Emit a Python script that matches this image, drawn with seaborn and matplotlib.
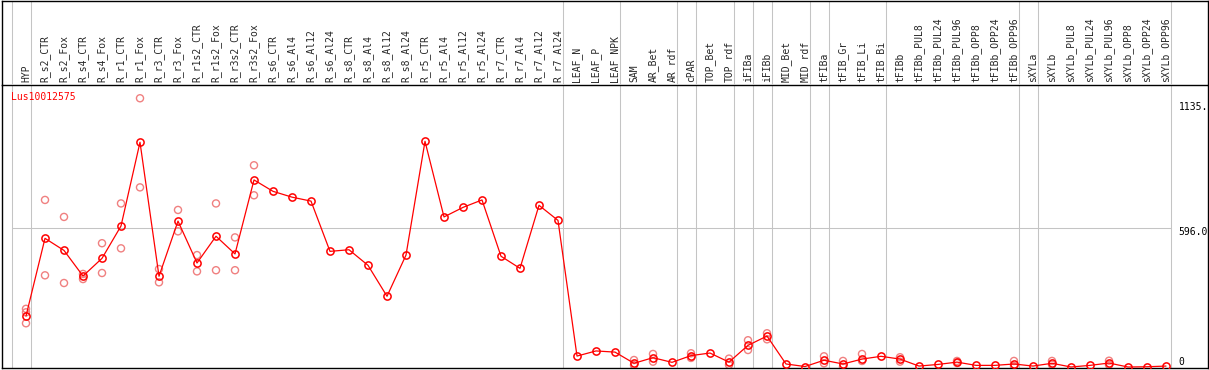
import numpy as np
import pandas as pd
import matplotlib
matplotlib.use("Agg")
import matplotlib.pyplot as plt
import seaborn as sns

labels = ["HYP", "R_s2_CTR", "R_s2_Fox", "R_s4_CTR", "R_s4_Fox", "R_r1_CTR", "R_r1_Fox",
          "R_r3_CTR", "R_r3_Fox", "R_r1s2_CTR", "R_r1s2_Fox", "R_r3s2_CTR", "R_r3s2_Fox",
          "R_s6_CTR", "R_s6_Al4", "R_s6_Al12", "R_s6_Al24", "R_s8_CTR", "R_s8_Al4",
          "R_s8_Al12", "R_s8_Al24", "R_r5_CTR", "R_r5_Al4", "R_r5_Al12", "R_r5_Al24",
          "R_r7_CTR", "R_r7_Al4", "R_r7_Al12", "R_r7_Al24", "LEAF_N", "LEAF_P", "LEAF_NPK",
          "SAM", "AR_Bet", "AR_rdf", "cPAR", "TOP_Bet", "TOP_rdf", "iFIBa", "iFIBb",
          "MID_Bet", "MID_rdf", "tFIBa", "tFIB_Gr", "tFIB_Li", "tFIB_Bi", "tFIBb",
          "tFIBb_PUL8", "tFIBb_PUL24", "tFIBb_PUL96", "tFIBb_OPP8", "tFIBb_OPP24",
          "tFIBb_OPP96", "sXYLa", "sXYLb", "sXYLb_PUL8", "sXYLb_PUL24", "sXYLb_PUL96",
          "sXYLb_OPP8", "sXYLb_OPP24", "sXYLb_OPP96"]

nan = np.nan
mean_vals = [219, 553, 501, 391, 467, 606, 966, 390, 627, 447, 562, 486, 804,
             755, 730, 713, 497, 504, 437, 304, 481, 970, 645, 686, 718,
             476, 424, 695, 630, 47, 69, 64,
             16, 40, 20, 49, 60, 21, 93, 133,
             13, 2, 29, 13, 34, 46, 34,
             4, 11, 21, 7, 7, 13,
             4, 16, 0, 7, 17, 0, 1, 4]
rep1_vals = [250, 718, 645, 400, 532, 703, 1155, 421, 675, 481, 703, 557, 867,
             nan, nan, nan, nan, nan, nan, nan, nan, nan, nan, nan, nan,
             nan, nan, nan, nan, nan, nan, nan,
             30, 56, nan, 59, nan, 36, 115, 145,
             nan, nan, 46, 26, 56, nan, 42,
             nan, nan, 26, nan, nan, 26,
             nan, 26, nan, nan, 27, nan, nan, nan]
rep2_vals = [188, 394, 361, 378, 404, 510, 772, 364, 583, 411, 416, 416, 738,
             nan, nan, nan, nan, nan, nan, nan, nan, nan, nan, nan, nan,
             nan, nan, nan, nan, nan, nan, nan,
             8, 23, nan, 39, nan, 9, 73, 119,
             nan, nan, 16, 1, 26, nan, 23,
             nan, nan, 17, nan, nan, 4,
             nan, 10, nan, nan, 9, nan, nan, nan]
rep3_vals = [235] + [nan] * 60

separators_after = [-1, 0, 28, 31, 34, 35, 37, 38, 39, 41, 42, 45, 52, 53, 60]
ref_values = [1135.0, 596.0, 0]
ref_texts = ["1135.", "596.0", "0"]
gene_name = "Lus10012575"

sns.set_style("white")
plt.rcParams["font.family"] = ["DejaVu Sans Mono", "DejaVu Sans"]

W, H = 1209, 370
fig = plt.figure(figsize=(W / 100, H / 100), dpi=100)

# main plot axes: pixel x 1..1208, y (from top) 85..368
ax = fig.add_axes([1.5 / W, 2 / H, 1206.5 / W, 283 / H])
top = fig.add_axes([1.5 / W, 285 / H, 1206.5 / W, 84.5 / H])

x0_px, dx_px = 26.0, 19.0
xl = (1.5 - x0_px) / dx_px
xr = (1208 - x0_px) / dx_px
for a in (ax, top):
    a.set_xlim(xl, xr)
ax.set_ylim(-4.3, 1212)
top.set_ylim(0, 1)

pos = np.arange(len(labels))
df_mean = pd.DataFrame({"pos": pos, "value": mean_vals})
reps = []
for r in (rep1_vals, rep2_vals, rep3_vals):
    reps.append(pd.DataFrame({"pos": pos, "value": r}))
df_rep = pd.concat(reps).dropna()

grey = "#c4c4c4"
lw = 0.75
for s in separators_after:
    ax.axvline(s + 0.25, color=grey, lw=lw, zorder=1)
    top.axvline(s + 0.25, color=grey, lw=lw, zorder=1)
ax.hlines(596.0, separators_after[0] + 0.25, separators_after[-1] + 0.25,
          color=grey, lw=lw, zorder=1)

sns.scatterplot(data=df_rep, x="pos", y="value", ax=ax, marker="o", s=26,
                facecolors="none", edgecolor="#f08080", linewidth=1.0,
                legend=False, zorder=2)
sns.lineplot(data=df_mean, x="pos", y="value", ax=ax, color="#ff0000",
             linewidth=0.9, marker="o", markersize=5.2, markerfacecolor="none",
             markeredgecolor="#ff0000", markeredgewidth=1.1, zorder=3)

ax.set_xlabel("")
ax.set_ylabel("")
ax.set_yticks([])
ax.xaxis.tick_top()
ax.set_xticks(pos)
ax.set_xticklabels(labels, rotation=90, fontsize=7, family="DejaVu Sans Mono")
ax.tick_params(axis="x", length=0, pad=2.2, top=True, bottom=False,
               labeltop=True, labelbottom=False)

for v, t in zip(ref_values, ref_texts):
    dy = -2.9 if v > 0 else 3.8
    ax.annotate(t, xy=(60.66, v), xycoords="data", xytext=(0, dy),
                textcoords="offset points", ha="left", va="center",
                fontsize=7, family="DejaVu Sans Mono", color="black",
                annotation_clip=False)

ax.annotate(gene_name, xy=(0, 1), xycoords="axes fraction", xytext=(6.5, -8.6),
            textcoords="offset points", ha="left", va="center", fontsize=7,
            family="DejaVu Sans Mono", color="#ff0000")

for a in (ax, top):
    for sp in a.spines.values():
        sp.set_color("black")
        sp.set_linewidth(1.0)
top.spines["bottom"].set_visible(False)
top.set_xticks([])
top.set_yticks([])
top.patch.set_visible(False)

fig.savefig("out.png", dpi=100)
